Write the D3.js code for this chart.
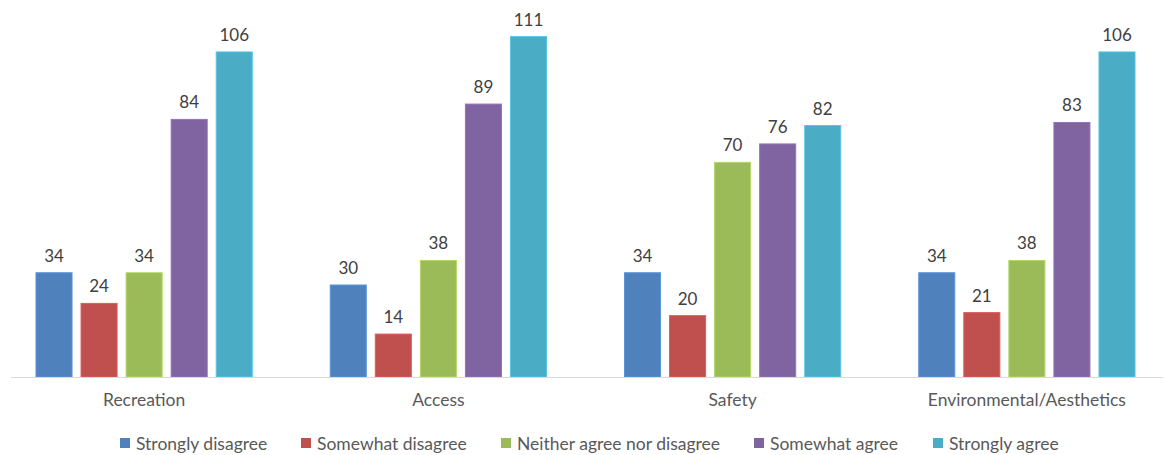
<!DOCTYPE html>
<html><head><meta charset="utf-8">
<script src="https://cdn.jsdelivr.net/npm/d3@7"></script>
<style>body{margin:0;background:#fff}svg{display:block}text{font-family:Lato,"Open Sans",sans-serif}</style>
</head><body><svg id="c" width="1166" height="455"></svg>
<script>
const categories = ["Recreation","Access","Safety","Environmental/Aesthetics"];
const seriesNames = ["Strongly disagree","Somewhat disagree","Neither agree nor disagree","Somewhat agree","Strongly agree"];
const colors = ["#4F81BD","#C0504D","#9BBB59","#8064A2","#4BACC6"];
const stronglyDisagree = [34,30,34,34];
const somewhatDisagree = [24,14,20,21];
const neither = [34,38,70,38];
const somewhatAgree = [84,89,76,83];
const stronglyAgree = [106,111,82,106];
const seriesValues = [stronglyDisagree,somewhatDisagree,neither,somewhatAgree,stronglyAgree];

const FONT = 'Lato,"Open Sans",sans-serif';
const svg = d3.select("#c");
const baseY = 377, topY = 9;
const y = d3.scaleLinear().domain([0,120]).range([baseY, topY]);
const x0 = d3.scaleBand().domain(categories).range([-3,1174]).paddingInner(0.265).paddingOuter(0.1325);
const x1 = d3.scaleBand().domain(seriesNames).range([0,x0.bandwidth()]).paddingInner(0.2);

const g = svg.append("g");
categories.forEach((c,ci)=>{
  const gg = g.append("g").attr("transform",`translate(${x0(c)},0)`);
  seriesNames.forEach((s,si)=>{
    const v = seriesValues[si][ci];
    gg.append("rect").attr("x",x1(s)).attr("y",y(v)).attr("width",x1.bandwidth()).attr("height",baseY-y(v))
      .attr("fill",colors[si]).attr("stroke",d3.color(colors[si]).brighter(0.4)).attr("stroke-width",1);
    gg.append("text").attr("x",x1(s)+x1.bandwidth()/2).attr("y",y(v)-11).attr("text-anchor","middle")
      .attr("font-size",17).attr("fill","#404040").text(v);
  });
});
// axis
const axis = d3.axisBottom(x0).tickSize(0).tickPadding(17);
const ax = svg.append("g").attr("transform",`translate(0,${baseY})`).call(axis);
ax.select(".domain").remove();
ax.selectAll("text").attr("font-size",17.5).attr("fill","#595959").style("font-family",FONT);
svg.append("line").attr("x1",11).attr("x2",1163).attr("y1",baseY+0.5).attr("y2",baseY+0.5).attr("stroke","#d9d9d9").attr("stroke-width",1);

// legend
const legX = [120,301,501,754,933];
const lg = svg.append("g");
seriesNames.forEach((s,i)=>{
  lg.append("rect").attr("x",legX[i]).attr("y",438).attr("width",10).attr("height",10).attr("fill",colors[i]);
  lg.append("text").attr("x",legX[i]+16).attr("y",450).attr("font-size",17.5).attr("fill","#595959").text(s);
});
</script></body></html>
